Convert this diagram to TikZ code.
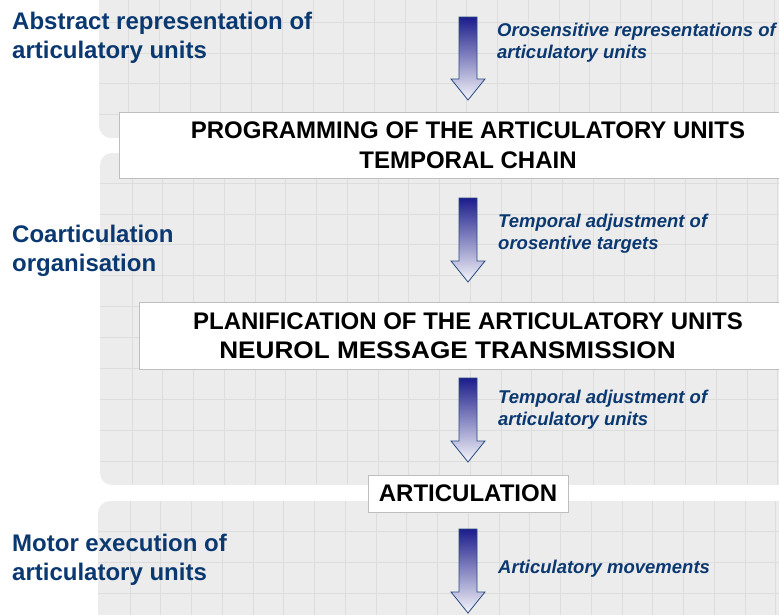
\documentclass[tikz,border=0pt]{standalone}
\usepackage{fontspec}
\setmainfont{Liberation Sans}
\definecolor{labelblue}{RGB}{10,56,112}
\definecolor{panelgray}{RGB}{236,236,236}
\definecolor{gridgray}{RGB}{221,221,221}
\definecolor{arrowtop}{RGB}{28,28,140}
\definecolor{arrowline}{RGB}{40,75,130}
\definecolor{boxline}{RGB}{190,190,190}
\tikzset{
  panelbg/.style={fill=panelgray, rounded corners=12pt},
  gridline/.style={draw=gridgray, line width=0.8pt},
  leftlabel/.style={font=\fontsize{24}{28.5}\selectfont\bfseries, text=labelblue, align=left, anchor=base west, inner sep=0pt},
  rightlabel/.style={font=\fontsize{18.5}{22}\selectfont\bfseries\itshape, text=labelblue, align=left, anchor=base west, inner sep=0pt},
  stagebox/.style={draw=boxline, fill=white, line width=0.9pt, font=\fontsize{24}{29.5}\selectfont\bfseries, text=black, align=center, inner sep=0pt},
  blockarrowstyle/.style={draw=arrowline, line width=0.8pt, top color=arrowtop, bottom color=white!96!arrowtop, shading angle=0}
}
% #1 top y, #2 tip y
\newcommand\myblockarrow[2]{%
  \path[blockarrowstyle] (459,#1) -- (477,#1) -- (477,#2-21) -- (485,#2-21) -- (468,#2) -- (451,#2-21) -- (459,#2-21) -- cycle;}
\begin{document}
\begin{tikzpicture}[x=1pt,y=-1pt]
\useasboundingbox (0,0) rectangle (779,614);
% panels
\begin{scope}
  \clip[rounded corners=12pt] (99,-30) rectangle (820,138);
  \fill[panelgray] (99,-30) rectangle (820,138);
  \foreach \i in {0,...,22} { \draw[gridline] ({128.5+30.75*\i},-30) -- ++(0,170); }
  \foreach \i in {0,...,4} { \draw[gridline] (99,{-8.5+30.75*\i}) -- ++(722,0); }
\end{scope}
\begin{scope}
  \clip[rounded corners=12pt] (100,153) rectangle (820,485);
  \fill[panelgray] (100,153) rectangle (820,485);
  \foreach \i in {0,...,22} { \draw[gridline] ({132+30.75*\i},153) -- ++(0,332); }
  \foreach \i in {0,...,9} { \draw[gridline] (100,{183+30.9*\i}) -- ++(722,0); }
\end{scope}
\begin{scope}
  \clip[rounded corners=12pt] (98,501) rectangle (820,650);
  \fill[panelgray] (98,501) rectangle (820,650);
  \foreach \i in {0,...,22} { \draw[gridline] ({130+30.75*\i},501) -- ++(0,150); }
  \foreach \i in {0,...,3} { \draw[gridline] (98,{531.5+30.75*\i}) -- ++(722,0); }
\end{scope}
% left labels (anchor = baseline of last line)
\node[leftlabel] (lab1) at (12,58) {Abstract representation of\\articulatory units};
\node[leftlabel] (lab2) at (12,271) {Coarticulation\\organisation};
\node[leftlabel] (lab3) at (12,580) {Motor execution of\\articulatory units};
% stage boxes
\node[stagebox, minimum width=698, minimum height=66] (prog) at (468,145) {PROGRAMMING OF THE ARTICULATORY UNITS\\TEMPORAL CHAIN};
\node[stagebox, minimum width=658, minimum height=67] (plan) at (468,335.5) {PLANIFICATION OF THE ARTICULATORY UNITS\\\hspace*{-41pt}\scalebox{1.09}[1]{NEUROL MESSAGE TRANSMISSION}};
\node[stagebox, minimum width=200, minimum height=37] (artic) at (468,493.5) {ARTICULATION};
% block arrows
\coordinate (a1) at (468,17);  \coordinate (a1tip) at (468,100);
\coordinate (a2) at (468,198); \coordinate (a2tip) at (468,282);
\coordinate (a3) at (468,378); \coordinate (a3tip) at (468,462);
\coordinate (a4) at (468,529); \coordinate (a4tip) at (468,613);
\myblockarrow{17}{100}
\myblockarrow{198}{282}
\myblockarrow{378}{462}
\myblockarrow{529}{613}
% arrow labels (anchor = baseline of last line)
\node[rightlabel] (r1) at (497,58) {Orosensitive representations of\\articulatory units};
\node[rightlabel] (r2) at (498,249) {Temporal adjustment of\\orosentive targets};
\node[rightlabel] (r3) at (498,425) {Temporal adjustment of\\articulatory units};
\node[rightlabel] (r4) at (498,573) {Articulatory movements};
\end{tikzpicture}
\end{document}
